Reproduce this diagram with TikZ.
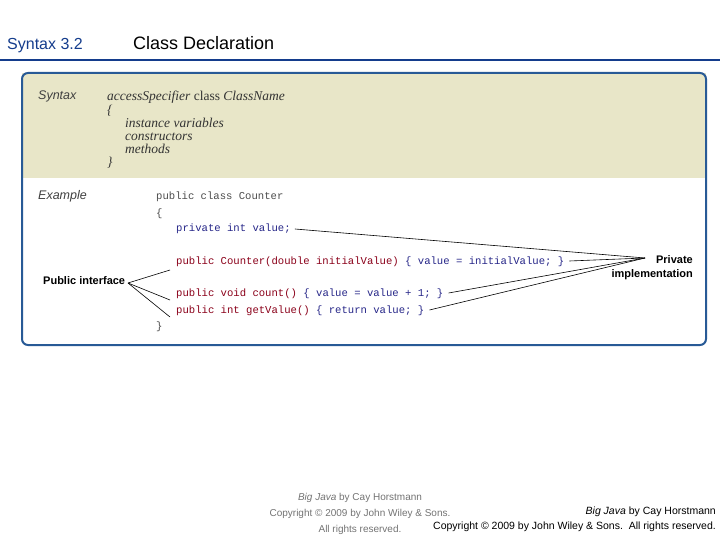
\documentclass[tikz,border=0pt]{standalone}
\usepackage{fontspec}
\setmainfont{Liberation Sans}
\newfontfamily\codefont{Liberation Mono}
\newfontfamily\serifit{Liberation Serif}
\begin{document}
\begin{tikzpicture}[x=1pt,y=-1pt,
  code/.style={anchor=base west,inner sep=0,font=\codefont\fontsize{10.6}{12}\selectfont},
  it/.style={anchor=base west,inner sep=0,font=\serifit\itshape\fontsize{13.5}{14}\selectfont,text=black!80},
  lab/.style={anchor=base west,inner sep=0,font=\itshape\fontsize{12.5}{14}\selectfont,text=black!75},
  bl/.style={text=blue!45!black!85!white},
  rd/.style={text=red!60!black!90!blue},
  ln/.style={draw=black,line width=0.6pt},
  foot/.style={inner sep=0,font=\fontsize{10}{12}\selectfont}]
\useasboundingbox (0,0) rectangle (720,540);
\definecolor{ttl}{RGB}{20,60,140}
\definecolor{beige}{RGB}{232,230,200}
\definecolor{bord}{RGB}{40,90,150}
\node[anchor=base west,inner sep=0,text=ttl,font=\fontsize{16}{18}\selectfont] (t1) at (7,50) {Syntax 3.2};
\node[anchor=base west,inner sep=0,text=black,font=\fontsize{18}{20}\selectfont] (t2) at (133,50) {Class Declaration};
\draw[ttl,line width=2.5pt] (0,60) -- (720,60);
\fill[beige] (22,73) rectangle (706,178);
\draw[bord,line width=2pt,rounded corners=6pt] (22,73) rectangle (706,345);
\node[lab] (sy) at (38,100) {Syntax};
\node[it] (s1) at (107,101) {accessSpecifier \textup{class} ClassName};
\node[it] (s2) at (107,115) {\{};
\node[it] (s3) at (125,128) {instance variables};
\node[it] (s4) at (125,141) {constructors};
\node[it] (s5) at (125,154) {methods};
\node[it] (s6) at (107,167) {\}};
\node[lab] (ex) at (38,200) {Example};
\node[code,text=black!70] (c1) at (156,200) {public class Counter};
\node[code,text=black!70] (c2) at (156,216) {\{};
\node[code,bl] (c3) at (176,232) {private int value;};
\node[code,rd] (c4) at (176,264) {public Counter(double initialValue) {\color{blue!45!black!85!white} \{ value = initialValue; \}}};
\node[code,rd] (c5) at (176,296) {public void count() {\color{blue!45!black!85!white} \{ value = value + 1; \}}};
\node[code,rd] (c6) at (176,313) {public int getValue() {\color{blue!45!black!85!white} \{ return value; \}}};
\node[code,text=black!70] (c7) at (156,329) {\}};
\node[anchor=east,inner sep=0,font=\bfseries\fontsize{11}{14}\selectfont,align=right] (pr) at (693,268) {Private\\implementation};
\node[anchor=west,inner sep=0,font=\bfseries\fontsize{11}{13}\selectfont] (pu) at (43,281) {Public interface};
\coordinate (pp) at (645,258);
\coordinate (pq) at (128,283);
\draw[ln] ([xshift=4pt,yshift=3pt]c3.base east) -- (pp);
\draw[ln] ([xshift=5pt,yshift=3pt]c4.base east) -- (pp);
\draw[ln] ([xshift=5pt,yshift=3pt]c5.base east) -- (pp);
\draw[ln] ([xshift=5pt,yshift=3pt]c6.base east) -- (pp);
\draw[ln] (pq) -- ([xshift=-6pt,yshift=-6pt]c4.base west);
\draw[ln] (pq) -- ([xshift=-6pt,yshift=-4pt]c5.base west);
\draw[ln] (pq) -- ([xshift=-6pt,yshift=-4pt]c6.base west);
\node[foot,text=black!55,align=center,font=\fontsize{10}{16}\selectfont] (f1) at (360,514) {\textit{Big Java} by Cay Horstmann\\Copyright © 2009 by John Wiley \& Sons.\\All rights reserved.};
\node[foot,anchor=north east,align=right,font=\fontsize{10.5}{15}\selectfont] (f2) at (716,507) {\textit{Big Java} by Cay Horstmann\\Copyright © 2009 by John Wiley \& Sons.\ \ All rights reserved.};
\end{tikzpicture}
\end{document}
